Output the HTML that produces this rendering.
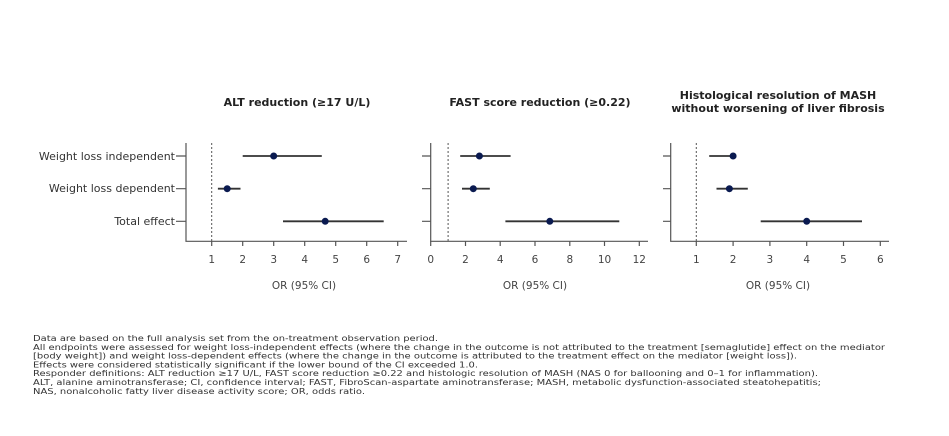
<!DOCTYPE html>
<html><head><meta charset="utf-8"><style>
html,body{margin:0;padding:0;background:#fff;}
svg{display:block;font-family:"DejaVu Sans","Liberation Sans",sans-serif;}
</style></head><body>
<svg width="949" height="436" viewBox="0 0 949 436" xmlns="http://www.w3.org/2000/svg">
<rect width="949" height="436" fill="#fff"/>
<g fill="#222" font-size="11">
<text x="297" y="106" text-anchor="middle" font-weight="bold">ALT reduction (≥17 U/L)</text>
<text x="540" y="106" text-anchor="middle" font-weight="bold">FAST score reduction (≥0.22)</text>
<text x="778" y="99" text-anchor="middle" font-weight="bold">Histological resolution of MASH</text>
<text x="778" y="112" text-anchor="middle" font-weight="bold">without worsening of liver fibrosis</text>
<text x="175" y="160" text-anchor="end" fill="#333">Weight loss independent</text>
<text x="175" y="192" text-anchor="end" fill="#333">Weight loss dependent</text>
<text x="175" y="225" text-anchor="end" fill="#333">Total effect</text>
</g>
<g stroke="#555" stroke-width="1.2" fill="none">
<path d="M186 143V241.3H407"/>
<path d="M176 156H186M176 188.7H186M176 221.3H186"/>
<path d="M430.7 143V241.3H648"/>
<path d="M422 156H430.7M422 188.7H430.7M422 221.3H430.7"/>
<path d="M670.7 143V241.3H889"/>
<path d="M663 156H670.7M663 188.7H670.7M663 221.3H670.7"/>
</g>
<g stroke="#555" stroke-width="1" stroke-dasharray="2,2">
<line x1="211.7" y1="143" x2="211.7" y2="241"/>
<line x1="448.1" y1="143" x2="448.1" y2="241"/>
<line x1="696.3" y1="143" x2="696.3" y2="241"/>
</g>
<g stroke="#333" stroke-width="1.8">
<line x1="242.7" y1="156" x2="321.8" y2="156"/>
<line x1="217.9" y1="188.7" x2="240.5" y2="188.7"/>
<line x1="283" y1="221.3" x2="383.7" y2="221.3"/>
<line x1="460.2" y1="156" x2="510.6" y2="156"/>
<line x1="462" y1="188.7" x2="489.8" y2="188.7"/>
<line x1="505.4" y1="221.3" x2="619.3" y2="221.3"/>
<line x1="709.2" y1="156" x2="733.1" y2="156"/>
<line x1="716.5" y1="188.7" x2="747.8" y2="188.7"/>
<line x1="760.7" y1="221.3" x2="862" y2="221.3"/>
</g>
<g fill="#0a1a50">
<circle cx="273.7" cy="156" r="3.5"/>
<circle cx="227.2" cy="188.7" r="3.5"/>
<circle cx="325.2" cy="221.3" r="3.5"/>
<circle cx="479.4" cy="156" r="3.5"/>
<circle cx="473.3" cy="188.7" r="3.5"/>
<circle cx="549.8" cy="221.3" r="3.5"/>
<circle cx="733.1" cy="156" r="3.5"/>
<circle cx="729.4" cy="188.7" r="3.5"/>
<circle cx="806.7" cy="221.3" r="3.5"/>
</g>
<g stroke="#555" stroke-width="1.2">
<path d="M211.7 241V246M242.7 241V246M273.7 241V246M304.7 241V246M335.7 241V246M366.7 241V246M397.7 241V246"/>
<path d="M430.7 241V246M465.5 241V246M500.2 241V246M535 241V246M569.8 241V246M604.5 241V246M639.3 241V246"/>
<path d="M696.3 241V246M733.1 241V246M769.9 241V246M806.7 241V246M843.5 241V246M880.3 241V246"/>
</g>
<g fill="#444" font-size="10.5" text-anchor="middle">
<text x="211.7" y="263">1</text><text x="242.7" y="263">2</text><text x="273.7" y="263">3</text><text x="304.7" y="263">4</text><text x="335.7" y="263">5</text><text x="366.7" y="263">6</text><text x="397.7" y="263">7</text>
<text x="430.7" y="263">0</text><text x="465.5" y="263">2</text><text x="500.2" y="263">4</text><text x="535" y="263">6</text><text x="569.8" y="263">8</text><text x="604.5" y="263">10</text><text x="639.3" y="263">12</text>
<text x="696.3" y="263">1</text><text x="733.1" y="263">2</text><text x="769.9" y="263">3</text><text x="806.7" y="263">4</text><text x="843.5" y="263">5</text><text x="880.3" y="263">6</text>
<text x="304" y="289">OR (95% CI)</text>
<text x="535" y="289">OR (95% CI)</text>
<text x="778" y="289">OR (95% CI)</text>
</g>
<g fill="#333" font-size="8">
<text x="33" y="341" textLength="405" lengthAdjust="spacingAndGlyphs">Data are based on the full analysis set from the on-treatment observation period.</text>
<text x="33" y="349.8" textLength="852" lengthAdjust="spacingAndGlyphs">All endpoints were assessed for weight loss-independent effects (where the change in the outcome is not attributed to the treatment [semaglutide] effect on the mediator</text>
<text x="33" y="358.6" textLength="764" lengthAdjust="spacingAndGlyphs">[body weight]) and weight loss-dependent effects (where the change in the outcome is attributed to the treatment effect on the mediator [weight loss]).</text>
<text x="33" y="367.4" textLength="445" lengthAdjust="spacingAndGlyphs">Effects were considered statistically significant if the lower bound of the CI exceeded 1.0.</text>
<text x="33" y="376.2" textLength="785" lengthAdjust="spacingAndGlyphs">Responder definitions: ALT reduction ≥17 U/L, FAST score reduction ≥0.22 and histologic resolution of MASH (NAS 0 for ballooning and 0–1 for inflammation).</text>
<text x="33" y="385" textLength="788" lengthAdjust="spacingAndGlyphs">ALT, alanine aminotransferase; CI, confidence interval; FAST, FibroScan-aspartate aminotransferase; MASH, metabolic dysfunction-associated steatohepatitis;</text>
<text x="33" y="393.8" textLength="332" lengthAdjust="spacingAndGlyphs">NAS, nonalcoholic fatty liver disease activity score; OR, odds ratio.</text>
</g>
</svg>
</body></html>
